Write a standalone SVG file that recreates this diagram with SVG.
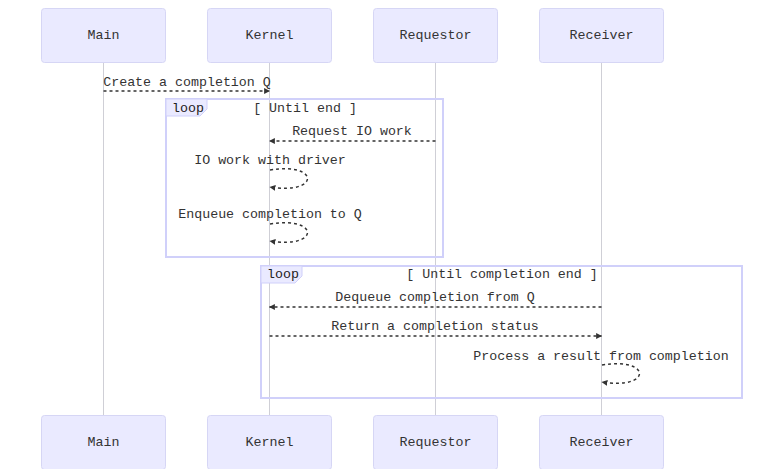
<svg xmlns="http://www.w3.org/2000/svg" width="784" height="469" viewBox="0 0 784 469">
<defs>
<style>
.actor{fill:#eaeaff;stroke:#d6d6f5;stroke-width:1}
.atext{font-family:"Liberation Mono",monospace;font-size:13.3px;fill:#333;text-anchor:middle;dominant-baseline:central}
.life{stroke:#cfcfd6;stroke-width:1}
.msg{stroke:#333;stroke-width:1.5;stroke-dasharray:3,3;fill:none}
.mtext{font-family:"Liberation Mono",monospace;font-size:13.3px;fill:#333;text-anchor:middle}
.loopbox{fill:none;stroke:#d0d0fa;stroke-width:2}
.ltab{fill:#eaeaff;stroke:#d0d0fa;stroke-width:1}
.ltext{font-family:"Liberation Mono",monospace;font-size:13.3px;fill:#222}
</style>
<marker id="ah" viewBox="0 0 10 10" refX="9" refY="5" markerWidth="6" markerHeight="6" orient="auto-start-reverse" markerUnits="userSpaceOnUse">
<path d="M0,0 L10,5 L0,10 z" fill="#333"/>
</marker>
</defs>
<rect width="784" height="469" fill="#fff"/>
<g id="lifelines">
<line class="life" x1="103.5" y1="62" x2="103.5" y2="415"/>
<line class="life" x1="269.5" y1="62" x2="269.5" y2="415"/>
<line class="life" x1="435.5" y1="62" x2="435.5" y2="415"/>
<line class="life" x1="601.5" y1="62" x2="601.5" y2="415"/>
</g>
<g id="actor-main-top"><rect class="actor" x="41.5" y="8.5" width="124" height="54" rx="3"/><text class="atext" x="103.5" y="35.5">Main</text></g>
<g id="actor-kernel-top"><rect class="actor" x="207.5" y="8.5" width="124" height="54" rx="3"/><text class="atext" x="269.5" y="35.5">Kernel</text></g>
<g id="actor-requestor-top"><rect class="actor" x="373.5" y="8.5" width="124" height="54" rx="3"/><text class="atext" x="435.5" y="35.5">Requestor</text></g>
<g id="actor-receiver-top"><rect class="actor" x="539.5" y="8.5" width="124" height="54" rx="3"/><text class="atext" x="601.5" y="35.5">Receiver</text></g>
<g id="actor-main-bottom"><rect class="actor" x="41.5" y="415.5" width="124" height="54" rx="3"/><text class="atext" x="103.5" y="442">Main</text></g>
<g id="actor-kernel-bottom"><rect class="actor" x="207.5" y="415.5" width="124" height="54" rx="3"/><text class="atext" x="269.5" y="442">Kernel</text></g>
<g id="actor-requestor-bottom"><rect class="actor" x="373.5" y="415.5" width="124" height="54" rx="3"/><text class="atext" x="435.5" y="442">Requestor</text></g>
<g id="actor-receiver-bottom"><rect class="actor" x="539.5" y="415.5" width="124" height="54" rx="3"/><text class="atext" x="601.5" y="442">Receiver</text></g>
<g id="loop1">
<rect class="loopbox" x="166" y="99" width="277" height="158"/>
<polygon class="ltab" points="166,99 207,99 207,109 200,116 166,116"/>
<text class="ltext" x="172" y="112">loop</text>
<text class="mtext" x="305" y="112">[ Until end ]</text>
</g>
<g id="loop2">
<rect class="loopbox" x="261" y="266" width="481" height="132"/>
<polygon class="ltab" points="261,266 302,266 302,276 295,283 261,283"/>
<text class="ltext" x="267" y="278">loop</text>
<text class="mtext" x="502" y="278">[ Until completion end ]</text>
</g>
<g id="connectors">
<line class="msg" x1="103.5" y1="91" x2="269.5" y2="91" marker-end="url(#ah)"/>
<line class="msg" x1="435.5" y1="141" x2="269.5" y2="141" marker-end="url(#ah)"/>
<path class="msg" d="M270,170 C320,162 320,195 270,187" marker-end="url(#ah)"/>
<path class="msg" d="M270,224 C320,216 320,249 270,241" marker-end="url(#ah)"/>
<line class="msg" x1="601.5" y1="307" x2="269.5" y2="307" marker-end="url(#ah)"/>
<line class="msg" x1="269.5" y1="336" x2="601.5" y2="336" marker-end="url(#ah)"/>
<path class="msg" d="M602,365 C652,357 652,390 602,382" marker-end="url(#ah)"/>
</g>
<g id="labels">
<text class="mtext" x="187" y="86">Create a completion Q</text>
<text class="mtext" x="352" y="135">Request IO work</text>
<text class="mtext" x="270" y="164">IO work with driver</text>
<text class="mtext" x="270" y="218">Enqueue completion to Q</text>
<text class="mtext" x="435" y="301">Dequeue completion from Q</text>
<text class="mtext" x="435" y="330">Return a completion status</text>
<text class="mtext" x="601" y="360">Process a result from completion</text>
</g>
</svg>
